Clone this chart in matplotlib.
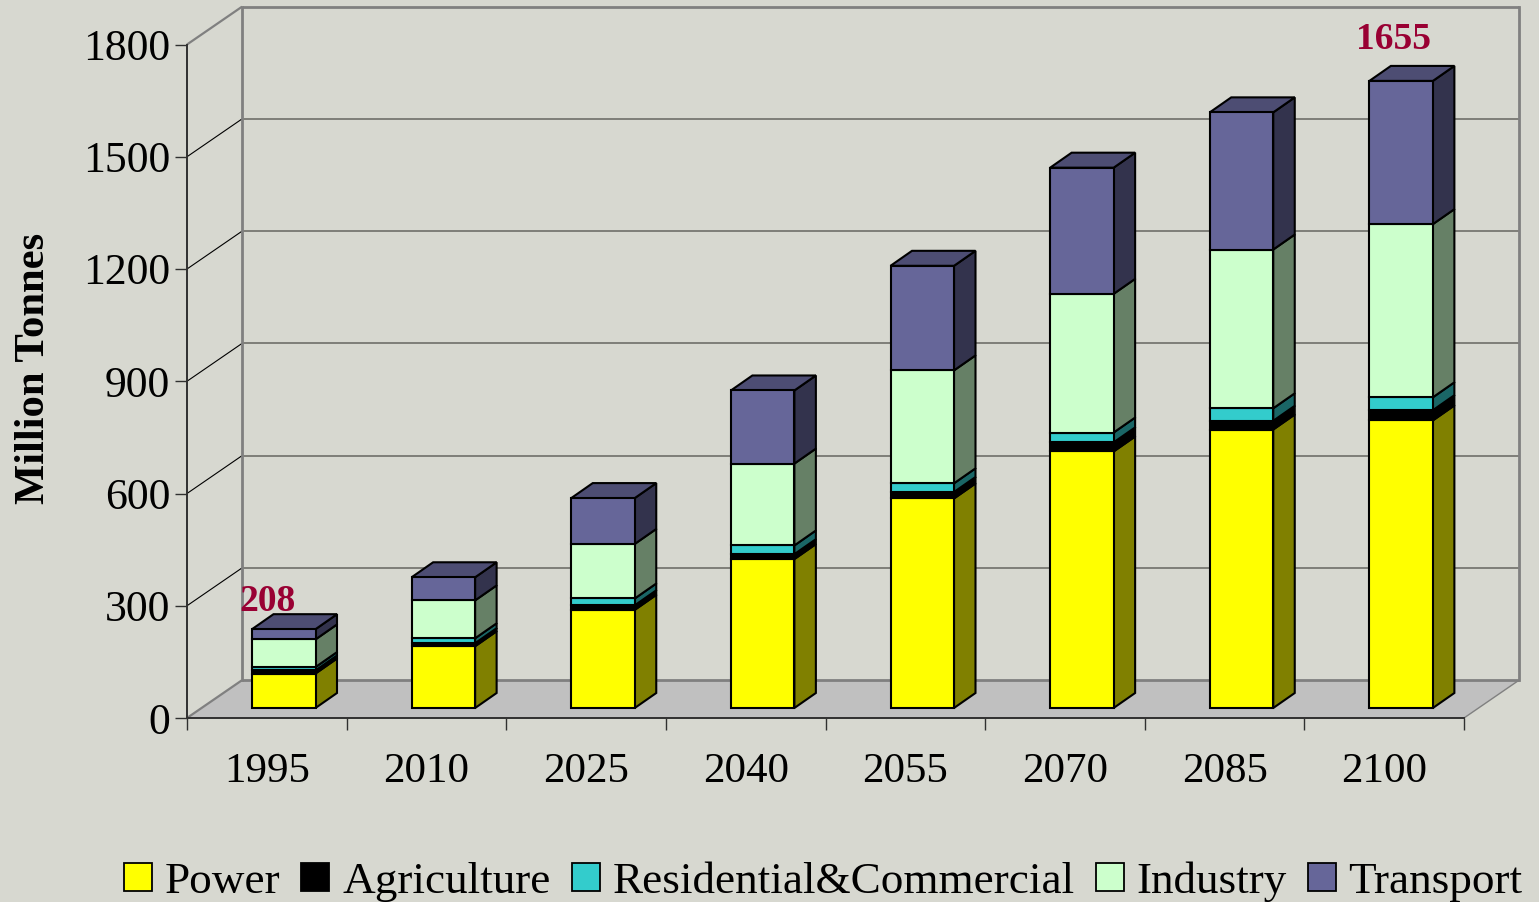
import matplotlib
matplotlib.use("Agg")
import matplotlib.pyplot as plt
from matplotlib.colors import to_rgb
from matplotlib.patches import Patch, Polygon

# Emissions by sector, million tonnes
years = ["1995", "2010", "2025", "2040", "2055", "2070", "2085", "2100"]
power = [91, 163, 259, 393, 553, 677, 735, 759]
agriculture = [8, 8, 12, 13, 17, 24, 23, 27]
residential = [9, 13, 18, 23, 23, 26, 33, 34]
industry = [73, 100, 144, 216, 298, 366, 419, 457]
transport = [27, 61, 121, 193, 276, 333, 362, 378]
sector_names = ["Power", "Agriculture", "Residential&Commercial", "Industry", "Transport"]
y_ticks = [0, 300, 600, 900, 1200, 1500, 1800]
total_labels = {0: "208", 7: "1655"}

sectors = [power, agriculture, residential, industry, transport]
sector_colors = ["#FFFF00", "#000000", "#33CCCC", "#CCFFCC", "#666699"]

BACKGROUND = "#D7D8D0"
FLOOR = "#C0C0C0"
WALL_EDGE = "#808080"
GRID = "#666660"
LABEL_RED = "#990033"
SERIF = "Liberation Serif"

W, H = 1539, 902
LEFT, RIGHT, BOTTOM, TOP = 187, 1464, 718, 44.5
px_x = 8 / (RIGHT - LEFT)          # slots per pixel
px_y = 1800 / (BOTTOM - TOP)       # value units per pixel

# Oblique projection of the chart box and of each bar
wall_dx, wall_dy = 55 * px_x, 37.8 * px_y
depth_dx, depth_dy = 21.5 * px_x, 15 * px_y
bar_left, bar_width = 65 * px_x, 63.5 * px_x
bar_base = 10 * px_y
bar_scale = 0.3789 * px_y          # bars sit nearer the back wall, so they scale a little differently

fig = plt.figure(figsize=(W / 100, H / 100), dpi=100, facecolor=BACKGROUND)
ax = fig.add_axes([LEFT / W, 1 - BOTTOM / H, (RIGHT - LEFT) / W, (BOTTOM - TOP) / H])
ax.set_facecolor("none")
ax.set_xlim(0, 8)
ax.set_ylim(0, 1800)


def poly(points, face, edge="none", lw=0.0, z=1):
    ax.add_patch(Polygon(points, closed=True, facecolor=face, edgecolor=edge, linewidth=lw,
                         joinstyle="miter", clip_on=False, zorder=z))


def shade(color, factor):
    return tuple(c * factor for c in to_rgb(color))


# Floor, back wall and gridlines
poly([(0, 0), (wall_dx, wall_dy), (8 + wall_dx, wall_dy), (8, 0)], FLOOR, z=1)
for tick in y_ticks:
    outer = tick in (0, 1800)
    colour = WALL_EDGE if outer else "#000000"
    ax.plot([0, wall_dx], [tick, tick + wall_dy], color=colour, lw=1.6 if outer else 0.8,
            clip_on=False, zorder=2, solid_capstyle="butt")
    ax.plot([wall_dx, 8 + wall_dx], [tick + wall_dy] * 2,
            color=WALL_EDGE if outer else GRID, lw=2.0 if outer else 1.1,
            clip_on=False, zorder=2, solid_capstyle="butt")
ax.plot([wall_dx] * 2, [wall_dy, 1800 + wall_dy], color=WALL_EDGE, lw=2.0, clip_on=False, zorder=2)
ax.plot([8 + wall_dx] * 2, [wall_dy, 1800 + wall_dy], color=WALL_EDGE, lw=2.0, clip_on=False, zorder=2)
ax.plot([8, 8 + wall_dx], [0, wall_dy], color=WALL_EDGE, lw=1.0, clip_on=False, zorder=2)

# Stacked bars: front faces, side faces and a cap on the top segment
for i, year in enumerate(years):
    x0 = i + bar_left
    x1 = x0 + bar_width
    running = 0
    for values, colour in zip(sectors, sector_colors):
        y0 = bar_base + running * bar_scale
        running += values[i]
        y1 = bar_base + running * bar_scale
        poly([(x0, y0), (x1, y0), (x1, y1), (x0, y1)], colour, "#000000", 1.5, z=4)
        poly([(x1, y0), (x1 + depth_dx, y0 + depth_dy), (x1 + depth_dx, y1 + depth_dy), (x1, y1)],
             shade(colour, 0.5), "#000000", 1.5, z=3)
    poly([(x0, y1), (x0 + depth_dx, y1 + depth_dy), (x1 + depth_dx, y1 + depth_dy), (x1, y1)],
         shade(sector_colors[-1], 0.75), "#000000", 1.5, z=3)

    if i in total_labels:
        offset_x = {0: -16.5, 7: -7.5}[i] * 0.72
        offset_y = {0: 18, 7: 31.5}[i] * 0.72
        ax.annotate(total_labels[i], xy=(x0 + bar_width / 2, y1), xytext=(offset_x, offset_y),
                    textcoords="offset points", ha="center", va="baseline", color=LABEL_RED,
                    family=SERIF, weight="bold", fontsize=27, annotation_clip=False, zorder=6)

# Axes, ticks and labels
for side in ("top", "right"):
    ax.spines[side].set_visible(False)
for side in ("left", "bottom"):
    ax.spines[side].set_color("#303030")
    ax.spines[side].set_linewidth(1.4)
    ax.spines[side].set_zorder(5)

ax.set_yticks(y_ticks)
ax.set_yticklabels([str(t) for t in y_ticks], family=SERIF, fontsize=31.5)
ax.tick_params(axis="y", length=8.6, width=1.0, color="#303030", pad=3.6)
ax.set_xticks(range(9))
ax.set_xticklabels([])
ax.set_xticks([i + 0.5 for i in range(8)], minor=True)
ax.set_xticklabels(years, minor=True, family=SERIF, fontsize=31)
ax.tick_params(axis="x", which="major", length=8.6, width=1.0, color="#303030")
ax.tick_params(axis="x", which="minor", length=0, pad=25)

fig.text(34 / W, 1 - 368 / H, "Million Tonnes", rotation=90, ha="center", va="center",
         family=SERIF, weight="bold", fontsize=30.7)

handles = [Patch(facecolor=c, edgecolor="#000000", linewidth=1.3) for c in sector_colors]
fig.legend(handles, sector_names, ncol=5, loc="lower left", bbox_to_anchor=(124 / W, 1 - 902 / H),
           frameon=False, prop={"family": SERIF, "size": 32.5}, handlelength=0.62, handleheight=0.55,
           handletextpad=0.28, columnspacing=0.47, borderpad=0, borderaxespad=0)

fig.savefig("out.png", dpi=100, facecolor=BACKGROUND)
